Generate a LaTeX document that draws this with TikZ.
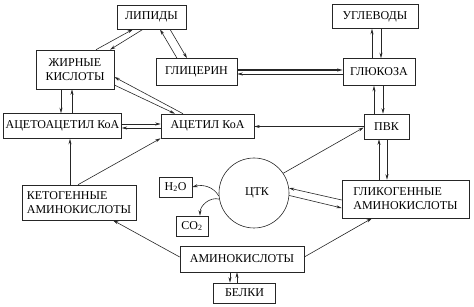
\documentclass[tikz,border=0pt]{standalone}
\usepackage{fontspec}
\setmainfont{Liberation Serif}
\usetikzlibrary{arrows.meta}
\begin{document}
\begin{tikzpicture}[
    x=1pt, y=-1pt,
    >={Stealth[length=5.5pt,width=3pt]},
    box/.style={
        rectangle, draw=black!85, line width=0.6pt, fill=white,
        inner sep=2pt, align=center,
        font=\fontsize{12}{14}\selectfont
    },
    leftbox/.style={box, align=left},
    tcacircle/.style={
        circle, draw=black!85, line width=0.6pt, minimum size=70pt,
        font=\fontsize{12}{14}\selectfont
    },
    link/.style={->, line width=0.6pt, draw=black!85},
]
\useasboundingbox (0,0) rectangle (474,307);

% ── Boxes ────────────────────────────────────────────────────
\node[box, minimum width=69pt, minimum height=24pt]  (lip)  at (151.5,17)  {ЛИПИДЫ};
\node[box, minimum width=78pt, minimum height=39pt]  (fat)  at (75,69.5)   {ЖИРНЫЕ\\КИСЛОТЫ};
\node[box, minimum width=81pt, minimum height=27pt]  (gly)  at (196.5,72)  {ГЛИЦЕРИН};
\node[box, minimum width=86pt, minimum height=24pt]  (carb) at (375,16.5)  {УГЛЕВОДЫ};
\node[box, minimum width=72pt, minimum height=27pt]  (glu)  at (379,72)    {ГЛЮКОЗА};
\node[box, minimum width=117pt, minimum height=25pt] (aac)  at (62.5,126)  {АЦЕТОАЦЕТИЛ КоА};
\node[box, minimum width=93pt, minimum height=24pt]  (acc)  at (207.5,126) {АЦЕТИЛ КоА};
\node[box, minimum width=45pt, minimum height=25pt]  (pyr)  at (386.5,126.5) {ПВК};
\node[tcacircle] (tca) at (254,193) {\hspace*{6pt}ЦТК};
\node[box, minimum width=33pt, minimum height=20pt]  (h2o)  at (175.5,187) {H\textsubscript{2}O};
\node[box, minimum width=32pt, minimum height=20pt]  (co2)  at (192,226)   {CO\textsubscript{2}};
\node[leftbox, minimum width=114pt, minimum height=35pt] (kam) at (79,202.5)  {КЕТОГЕННЫЕ\\АМИНОКИСЛОТЫ};
\node[leftbox, minimum width=127pt, minimum height=38pt] (gam) at (405.5,199) {ГЛИКОГЕННЫЕ\\АМИНОКИСЛОТЫ};
\node[box, minimum width=124pt, minimum height=26pt] (am)   at (242,259)   {АМИНОКИСЛОТЫ};
\node[box, minimum width=62pt, minimum height=20pt]  (prot) at (244.5,293) {БЕЛКИ};

% ── Lipids ───────────────────────────────────────────────────
\draw[link] ([xshift=21pt]fat.north) -- ([xshift=-18.5pt]lip.south);
\draw[link] ([xshift=-8.5pt]lip.south) -- ([xshift=35pt]fat.north);
\draw[link] ([xshift=-19.5pt]gly.north) -- ([xshift=8.5pt]lip.south);
\draw[link] ([xshift=18.5pt]lip.south) -- ([xshift=-9.5pt]gly.north);
\draw[link, line width=1.1pt] ([yshift=2pt]gly.east) -- ([yshift=2pt]glu.west);
\draw[link] ([yshift=-2pt]glu.west) -- ([yshift=-2pt]gly.east);

% ── Carbohydrates ────────────────────────────────────────────
\draw[link] ([xshift=-7pt]glu.north) -- ([xshift=-3pt]carb.south);
\draw[link] ([xshift=6pt]carb.south) -- ([xshift=2pt]glu.north);
\draw[link] ([xshift=-12.5pt]pyr.north) -- ([xshift=-5pt]glu.south);
\draw[link] ([xshift=4pt]glu.south) -- ([xshift=-3.5pt]pyr.north);
\draw[link] (pyr.west) -- (pyr.west -| acc.east);
\draw[link] (tca.34) -- ([yshift=-1pt]pyr.west);

% ── Glycogenic amino acids ───────────────────────────────────
\draw[link] ([xshift=-26.5pt]gam.north) -- ([xshift=-7.5pt]pyr.south);
\draw[link] ([xshift=0.5pt]pyr.south) -- ([xshift=-18.5pt]gam.north);
\draw[link] ([yshift=-1pt]gam.west) -- (tca.8);
\draw[link] (tca.-4) -- ([yshift=-9pt]gam.west);

% ── Amino acids and proteins ─────────────────────────────────
\draw[link] ([yshift=2pt]am.east) -- ([xshift=-33.5pt]gam.south);
\draw[link] ([yshift=2pt]am.west) -- ([xshift=34pt]kam.south);
\draw[link] ([xshift=-12pt]am.south) -- ([xshift=-14.5pt]prot.north);
\draw[link] ([xshift=-7.5pt]prot.north) -- ([xshift=-5pt]am.south);

% ── Ketogenic amino acids ────────────────────────────────────
\draw[link] ([xshift=-9pt]kam.north) -- ([xshift=7.5pt]aac.south);
\draw[link] ([xshift=-1pt]kam.north) -- (acc.south west);

% ── Fatty acids and acetyl CoA ───────────────────────────────
\draw[link] ([xshift=-14pt]fat.south) -- ([xshift=-1.5pt]aac.north);
\draw[link] ([xshift=9.5pt]aac.north) -- ([xshift=-3pt]fat.south);
\draw[link] ([xshift=-24.5pt]acc.north) -- ([yshift=-7.5pt]fat.east);
\draw[link] ([yshift=-15.5pt]fat.east) -- ([xshift=-32.5pt]acc.north);
\draw[link] ([yshift=2pt]aac.east) -- ([yshift=2pt]acc.west);
\draw[link] ([yshift=-2pt]acc.west) -- ([yshift=-2pt]aac.east);

% ── TCA products ─────────────────────────────────────────────
\draw[link] (tca.185) to[out=120, in=15] (h2o.east);
\draw[link] (tca.190) to[out=165, in=90] ([xshift=8pt]co2.north);

\end{tikzpicture}
\end{document}
